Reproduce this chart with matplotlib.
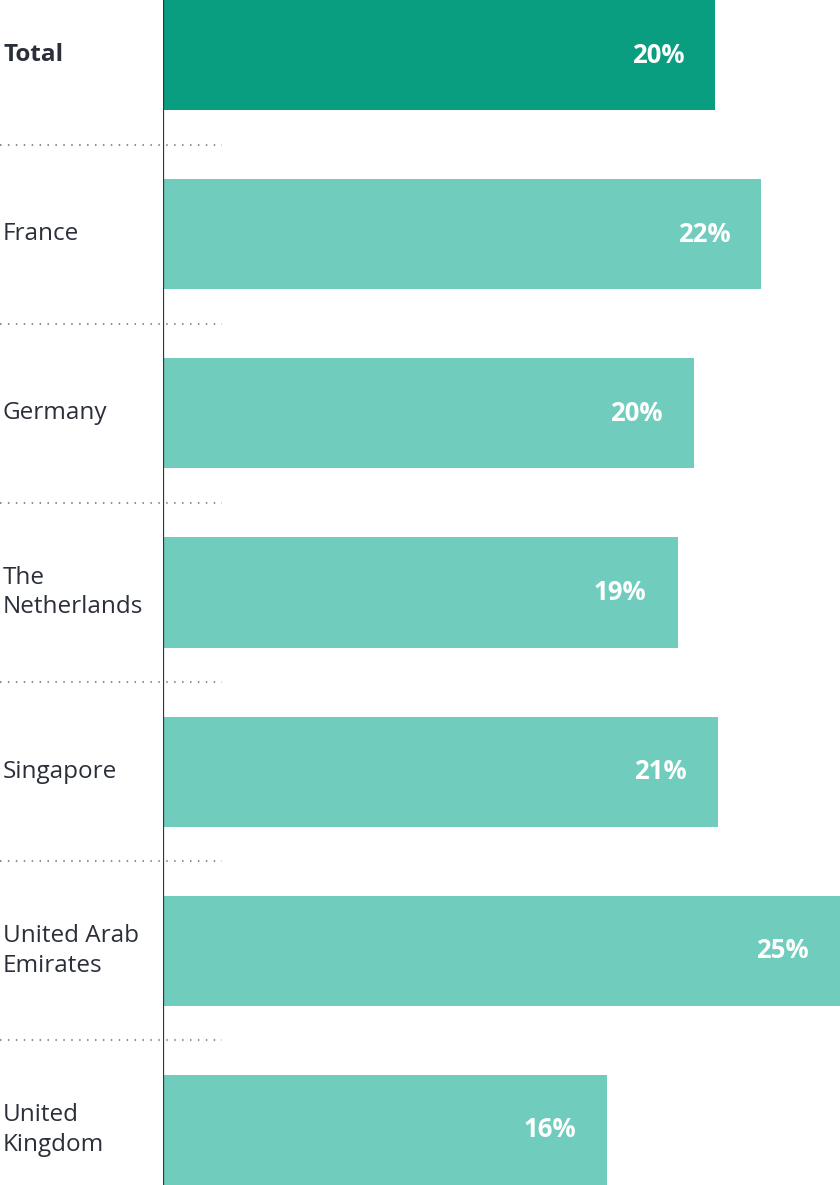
import matplotlib.pyplot as plt
import matplotlib.transforms as mtransforms
from matplotlib.lines import Line2D

# data
countries = ['Total', 'France', 'Germany', 'The\nNetherlands', 'Singapore',
             'United Arab\nEmirates', 'United\nKingdom']
values = [20.4, 22.1, 19.6, 19.0, 20.5, 25.0, 16.4]
value_labels = ['20%', '22%', '20%', '19%', '21%', '25%', '16%']

plt.rcParams['font.family'] = ['Open Sans', 'DejaVu Sans']

fig = plt.figure(figsize=(8.4, 11.85), dpi=100)
ax = fig.add_axes([163 / 840, 0, 1 - 163 / 840, 1])

colors = ['#0a9e80'] + ['#70cdbd'] * (len(countries) - 1)
pos = list(range(len(countries)))
ax.barh(pos, values, height=0.614, color=colors)

ax.set_xlim(0, 25)
ax.set_ylim(len(countries) - 1 + 0.307, -0.307)
ax.axis('off')

# left axis line
ax.axvline(0, color='#2e343e', lw=1.6)

blend_fig = mtransforms.blended_transform_factory(fig.transFigure, ax.transData)

for i, (name, v, lab) in enumerate(zip(countries, values, value_labels)):
    bold = 'bold' if name == 'Total' else 'normal'
    ax.text(3 / 840, i, name, transform=blend_fig, ha='left', va='center',
            fontsize=17.5, color='#2a2f3a', fontweight=bold, linespacing=1.3)
    ax.annotate(lab, xy=(v, i), xytext=(-31, 0), textcoords='offset pixels',
                ha='right', va='center', fontsize=18.5, fontweight='bold',
                color='white')

# dotted separators
for i in range(len(countries) - 1):
    line = Line2D([0, 222 / 840], [i + 0.5, i + 0.5], transform=blend_fig,
                  color='#8a8f96', lw=1.5, linestyle=(0, (0.7, 3.1)))
    fig.add_artist(line)

fig.savefig('out.png', dpi=100)
